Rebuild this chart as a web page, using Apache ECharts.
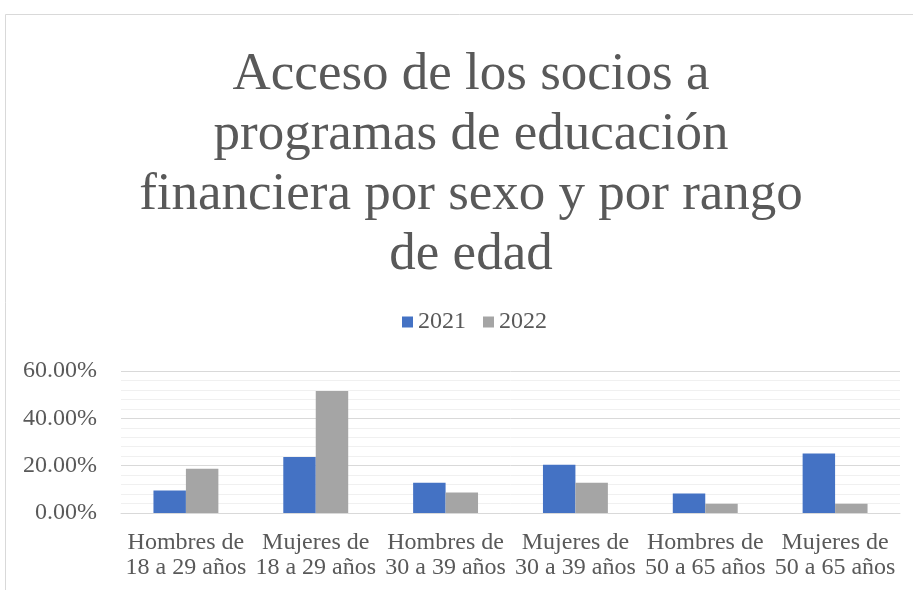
<!DOCTYPE html>
<html>
<head>
<meta charset="utf-8">
<script src="https://cdn.jsdelivr.net/npm/echarts@6/dist/echarts.min.js"></script>
<style>
  html, body { margin: 0; padding: 0; background: #fff; }
  #main { width: 913px; height: 590px; }
</style>
</head>
<body>
<div id="main"></div>
<script>
// 数据
const categories = [
  'Hombres de\n18 a 29 años',
  'Mujeres de\n18 a 29 años',
  'Hombres de\n30 a 39 años',
  'Mujeres de\n30 a 39 años',
  'Hombres de\n50 a 65 años',
  'Mujeres de\n50 a 65 años'
];
const values2021 = [9.5, 23.7, 12.8, 20.4, 8.2, 25.1];
const values2022 = [18.7, 51.6, 8.7, 12.8, 3.9, 3.9];

const font = 'Liberation Serif';
const textColor = '#595959';

const chart = echarts.init(document.getElementById('main'));
const option = {
  animation: false,
  backgroundColor: '#fff',
  title: {
    text: 'Acceso de los socios a\nprogramas de educación\nfinanciera por sexo y por rango\nde edad',
    left: 471,
    top: 45,
    padding: 0,
    textAlign: 'center',
    textStyle: {
      fontFamily: font,
      fontSize: 53,
      fontWeight: 'normal',
      color: textColor,
      lineHeight: 60
    }
  },
  legend: {
    top: 310,
    left: 402,
    padding: 0,
    itemWidth: 11,
    itemHeight: 11,
    itemGap: 17,
    icon: 'rect',
    textStyle: { fontFamily: font, fontSize: 24, color: textColor }
  },
  grid: { left: 121, right: 13, top: 371, bottom: 77 },
  xAxis: {
    type: 'category',
    data: categories,
    axisTick: { show: false },
    axisLine: { lineStyle: { color: '#d9d9d9', width: 1 } },
    axisLabel: {
      interval: 0,
      margin: 17,
      fontFamily: font,
      fontSize: 24,
      lineHeight: 25,
      color: textColor
    }
  },
  yAxis: {
    type: 'value',
    min: 0,
    max: 60,
    interval: 20,
    axisLine: { show: false },
    axisTick: { show: false },
    splitLine: { lineStyle: { color: '#d9d9d9' } },
    minorTick: { show: false, splitNumber: 5 },
    minorSplitLine: { show: true, lineStyle: { color: '#f0f0f0' } },
    axisLabel: {
      margin: 24,
      fontFamily: font,
      fontSize: 24,
      color: textColor,
      formatter: function (v) { return v.toFixed(2) + '%'; }
    }
  },
  series: [
    {
      name: '2021',
      type: 'bar',
      data: values2021,
      barGap: '0%',
      barCategoryGap: '50%',
      itemStyle: { color: '#4472C4' }
    },
    {
      name: '2022',
      type: 'bar',
      data: values2022,
      itemStyle: { color: '#A5A5A5' }
    }
  ],
  graphic: [
    {
      type: 'rect',
      shape: { x: 5.5, y: 14.5, width: 1000, height: 1000 },
      style: { fill: 'none', stroke: '#d9d9d9', lineWidth: 1 },
      silent: true
    }
  ]
};
chart.setOption(option);
</script>
</body>
</html>
